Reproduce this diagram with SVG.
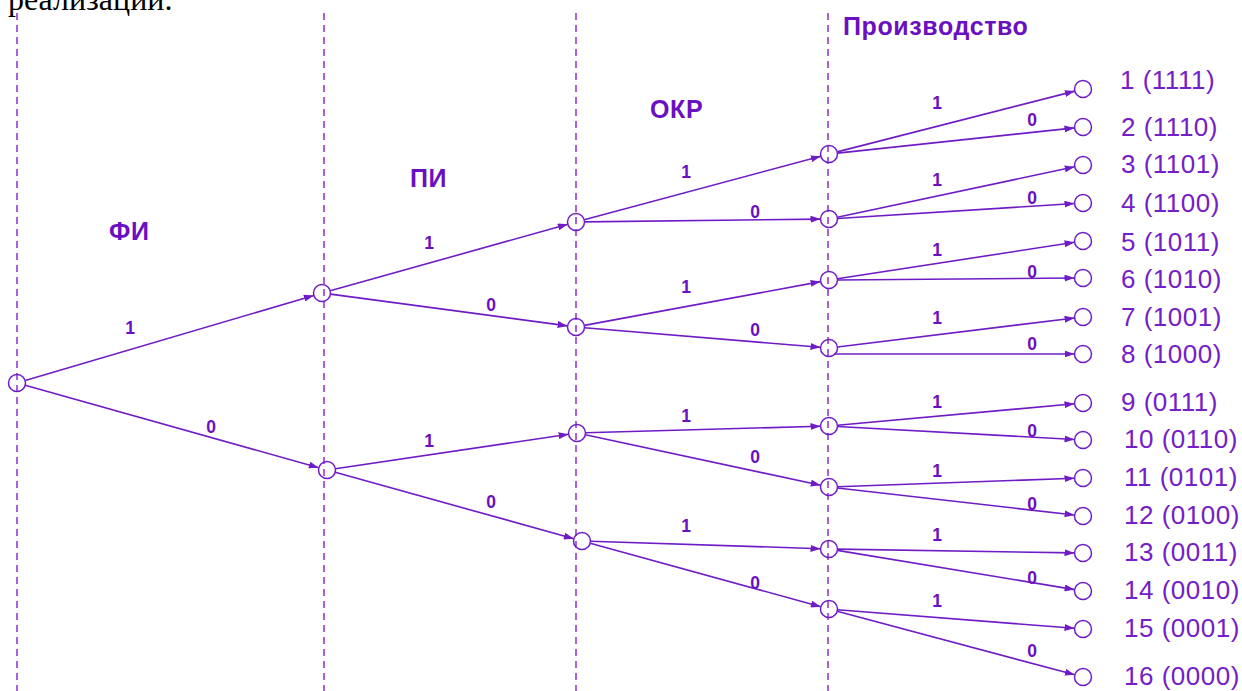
<svg xmlns="http://www.w3.org/2000/svg" width="1242" height="691" viewBox="0 0 1242 691">
  <style>
    .stage { stroke: #9a3ad6; stroke-width: 1.6; stroke-dasharray: 7 5; fill: none; }
    .node { fill: none; stroke: #6f1cc6; stroke-width: 1.5; }
    .edge { stroke: #6f1cc6; stroke-width: 1.6; fill: none; marker-end: url(#arrow); }
    .head { font-family: "Liberation Sans", Arial, sans-serif; font-weight: bold; font-size: 25px; letter-spacing: 0.6px; fill: #6a10c0; }
    .bit { font-family: "Liberation Sans", Arial, sans-serif; font-weight: bold; font-size: 17.5px; fill: #6a10c0; text-anchor: middle; }
    .leaf { font-family: "Liberation Sans", Arial, sans-serif; font-size: 26px; letter-spacing: 0.5px; fill: #7420c8; }
    .caption { font-family: "Liberation Serif", "Times New Roman", serif; font-size: 32px; fill: #000; }
  </style>
  <defs>
    <marker id="arrow" markerUnits="userSpaceOnUse" markerWidth="10" markerHeight="7" refX="10" refY="3.5" orient="auto">
      <path d="M0,0 L10,3.5 L0,7 z" fill="#6f1cc6"/>
    </marker>
  </defs>
  <rect width="1242" height="691" fill="#ffffff"/>

  <!-- tail of the preceding paragraph -->
  <text class="caption" x="8" y="10">реализации.</text>

  <!-- stage boundaries -->
  <g id="stages">
    <line class="stage" x1="17" y1="13" x2="17" y2="691"/>
    <line class="stage" x1="324" y1="13" x2="324" y2="691"/>
    <line class="stage" x1="576" y1="13" x2="576" y2="691"/>
    <line class="stage" x1="828" y1="13" x2="828" y2="691"/>
  </g>

  <!-- stage titles -->
  <g id="titles">
    <text class="head" x="109" y="240">ФИ</text>
    <text class="head" x="410" y="187">ПИ</text>
    <text class="head" x="650" y="118">ОКР</text>
    <text class="head" x="843" y="35">Производство</text>
  </g>

  <!-- connectors -->
  <g id="connectors">
    <line class="edge" x1="25.2" y1="380.6" x2="313.8" y2="295.4"/>
    <line class="edge" x1="25.2" y1="385.3" x2="318.8" y2="467.7"/>

    <line class="edge" x1="330.2" y1="290.7" x2="567.8" y2="224.3"/>
    <line class="edge" x1="330.4" y1="294.1" x2="567.6" y2="325.9"/>
    <line class="edge" x1="335.4" y1="468.8" x2="568.6" y2="434.2"/>
    <line class="edge" x1="335.2" y1="472.3" x2="573.8" y2="538.7"/>

    <line class="edge" x1="584.2" y1="219.8" x2="820.8" y2="156.2"/>
    <line class="edge" x1="584.5" y1="221.9" x2="820.5" y2="219.1"/>
    <line class="edge" x1="584.4" y1="325.4" x2="820.6" y2="281.6"/>
    <line class="edge" x1="584.5" y1="327.7" x2="820.5" y2="347.3"/>
    <line class="edge" x1="585.5" y1="432.8" x2="820.5" y2="426.2"/>
    <line class="edge" x1="585.3" y1="434.8" x2="820.7" y2="485.2"/>
    <line class="edge" x1="590.5" y1="541.3" x2="820.5" y2="548.7"/>
    <line class="edge" x1="590.2" y1="543.3" x2="820.8" y2="606.7"/>

    <line class="edge" x1="837.2" y1="151.9" x2="1074.8" y2="91.1"/>
    <line class="edge" x1="837.5" y1="153.1" x2="1074.5" y2="127.9"/>
    <line class="edge" x1="837.3" y1="217.2" x2="1074.7" y2="166.8"/>
    <line class="edge" x1="837.5" y1="218.5" x2="1074.5" y2="203.5"/>
    <line class="edge" x1="837.4" y1="278.7" x2="1074.6" y2="242.3"/>
    <line class="edge" x1="837.5" y1="280" x2="1074.5" y2="278"/>
    <line class="edge" x1="837.4" y1="347" x2="1074.6" y2="318"/>
    <line class="edge" x1="834" y1="354" x2="1074.5" y2="354"/>
    <line class="edge" x1="837.5" y1="425.2" x2="1074.5" y2="403.8"/>
    <line class="edge" x1="837.5" y1="426.5" x2="1074.5" y2="439.5"/>
    <line class="edge" x1="837.5" y1="486.7" x2="1074.5" y2="478.3"/>
    <line class="edge" x1="837.4" y1="488" x2="1074.6" y2="515"/>
    <line class="edge" x1="837.5" y1="549.1" x2="1074.5" y2="552.9"/>
    <line class="edge" x1="837.4" y1="550.4" x2="1074.6" y2="589.6"/>
    <line class="edge" x1="837.5" y1="609.7" x2="1074.5" y2="628.3"/>
    <line class="edge" x1="837.2" y1="611.2" x2="1074.8" y2="674.8"/>
  </g>

  <!-- branch values -->
  <g id="bits">
    <text class="bit" x="130" y="334">1</text>
    <text class="bit" x="211" y="433">0</text>
    <text class="bit" x="429" y="249">1</text>
    <text class="bit" x="491" y="311">0</text>
    <text class="bit" x="429" y="447">1</text>
    <text class="bit" x="491" y="508">0</text>

    <text class="bit" x="686" y="178">1</text>
    <text class="bit" x="755" y="218">0</text>
    <text class="bit" x="686" y="293">1</text>
    <text class="bit" x="755" y="336">0</text>
    <text class="bit" x="686" y="422">1</text>
    <text class="bit" x="755" y="463">0</text>
    <text class="bit" x="686" y="532">1</text>
    <text class="bit" x="755" y="589">0</text>

    <text class="bit" x="937" y="109">1</text>
    <text class="bit" x="1032" y="126">0</text>
    <text class="bit" x="937" y="186">1</text>
    <text class="bit" x="1032" y="204">0</text>
    <text class="bit" x="937" y="256">1</text>
    <text class="bit" x="1032" y="278">0</text>
    <text class="bit" x="937" y="324">1</text>
    <text class="bit" x="1032" y="350">0</text>
    <text class="bit" x="937" y="408">1</text>
    <text class="bit" x="1032" y="437">0</text>
    <text class="bit" x="937" y="477">1</text>
    <text class="bit" x="1032" y="510">0</text>
    <text class="bit" x="937" y="541">1</text>
    <text class="bit" x="1032" y="584">0</text>
    <text class="bit" x="937" y="607">1</text>
    <text class="bit" x="1032" y="657">0</text>
  </g>

  <!-- decision nodes -->
  <g id="root"><circle class="node" cx="17" cy="383" r="8.5"/></g>
  <g id="n1"><circle class="node" cx="322" cy="293" r="8.5"/></g>
  <g id="n0"><circle class="node" cx="327" cy="470" r="8.5"/></g>
  <g id="n11"><circle class="node" cx="576" cy="222" r="8.5"/></g>
  <g id="n10"><circle class="node" cx="576" cy="327" r="8.5"/></g>
  <g id="n01"><circle class="node" cx="577" cy="433" r="8.5"/></g>
  <g id="n00"><circle class="node" cx="582" cy="541" r="8.5"/></g>
  <g id="n111"><circle class="node" cx="829" cy="154" r="8.5"/></g>
  <g id="n110"><circle class="node" cx="829" cy="219" r="8.5"/></g>
  <g id="n101"><circle class="node" cx="829" cy="280" r="8.5"/></g>
  <g id="n100"><circle class="node" cx="829" cy="348" r="8.5"/></g>
  <g id="n011"><circle class="node" cx="829" cy="426" r="8.5"/></g>
  <g id="n010"><circle class="node" cx="829" cy="487" r="8.5"/></g>
  <g id="n001"><circle class="node" cx="829" cy="549" r="8.5"/></g>
  <g id="n000"><circle class="node" cx="829" cy="609" r="8.5"/></g>

  <!-- outcomes -->
  <g id="leaf1"><circle class="node" cx="1083" cy="89" r="8.5"/><text class="leaf" x="1120" y="89">1 (1111)</text></g>
  <g id="leaf2"><circle class="node" cx="1083" cy="127" r="8.5"/><text class="leaf" x="1121" y="136">2 (1110)</text></g>
  <g id="leaf3"><circle class="node" cx="1083" cy="165" r="8.5"/><text class="leaf" x="1121" y="173">3 (1101)</text></g>
  <g id="leaf4"><circle class="node" cx="1083" cy="203" r="8.5"/><text class="leaf" x="1121" y="212">4 (1100)</text></g>
  <g id="leaf5"><circle class="node" cx="1083" cy="241" r="8.5"/><text class="leaf" x="1121" y="251">5 (1011)</text></g>
  <g id="leaf6"><circle class="node" cx="1083" cy="278" r="8.5"/><text class="leaf" x="1121" y="288">6 (1010)</text></g>
  <g id="leaf7"><circle class="node" cx="1083" cy="317" r="8.5"/><text class="leaf" x="1121" y="326">7 (1001)</text></g>
  <g id="leaf8"><circle class="node" cx="1083" cy="354" r="8.5"/><text class="leaf" x="1121" y="363">8 (1000)</text></g>
  <g id="leaf9"><circle class="node" cx="1083" cy="403" r="8.5"/><text class="leaf" x="1121" y="411">9 (0111)</text></g>
  <g id="leaf10"><circle class="node" cx="1083" cy="440" r="8.5"/><text class="leaf" x="1124" y="448">10 (0110)</text></g>
  <g id="leaf11"><circle class="node" cx="1083" cy="478" r="8.5"/><text class="leaf" x="1124" y="486">11 (0101)</text></g>
  <g id="leaf12"><circle class="node" cx="1083" cy="516" r="8.5"/><text class="leaf" x="1124" y="524">12 (0100)</text></g>
  <g id="leaf13"><circle class="node" cx="1083" cy="553" r="8.5"/><text class="leaf" x="1124" y="561">13 (0011)</text></g>
  <g id="leaf14"><circle class="node" cx="1083" cy="591" r="8.5"/><text class="leaf" x="1124" y="599">14 (0010)</text></g>
  <g id="leaf15"><circle class="node" cx="1083" cy="629" r="8.5"/><text class="leaf" x="1124" y="637">15 (0001)</text></g>
  <g id="leaf16"><circle class="node" cx="1083" cy="677" r="8.5"/><text class="leaf" x="1124" y="685">16 (0000)</text></g>
</svg>
